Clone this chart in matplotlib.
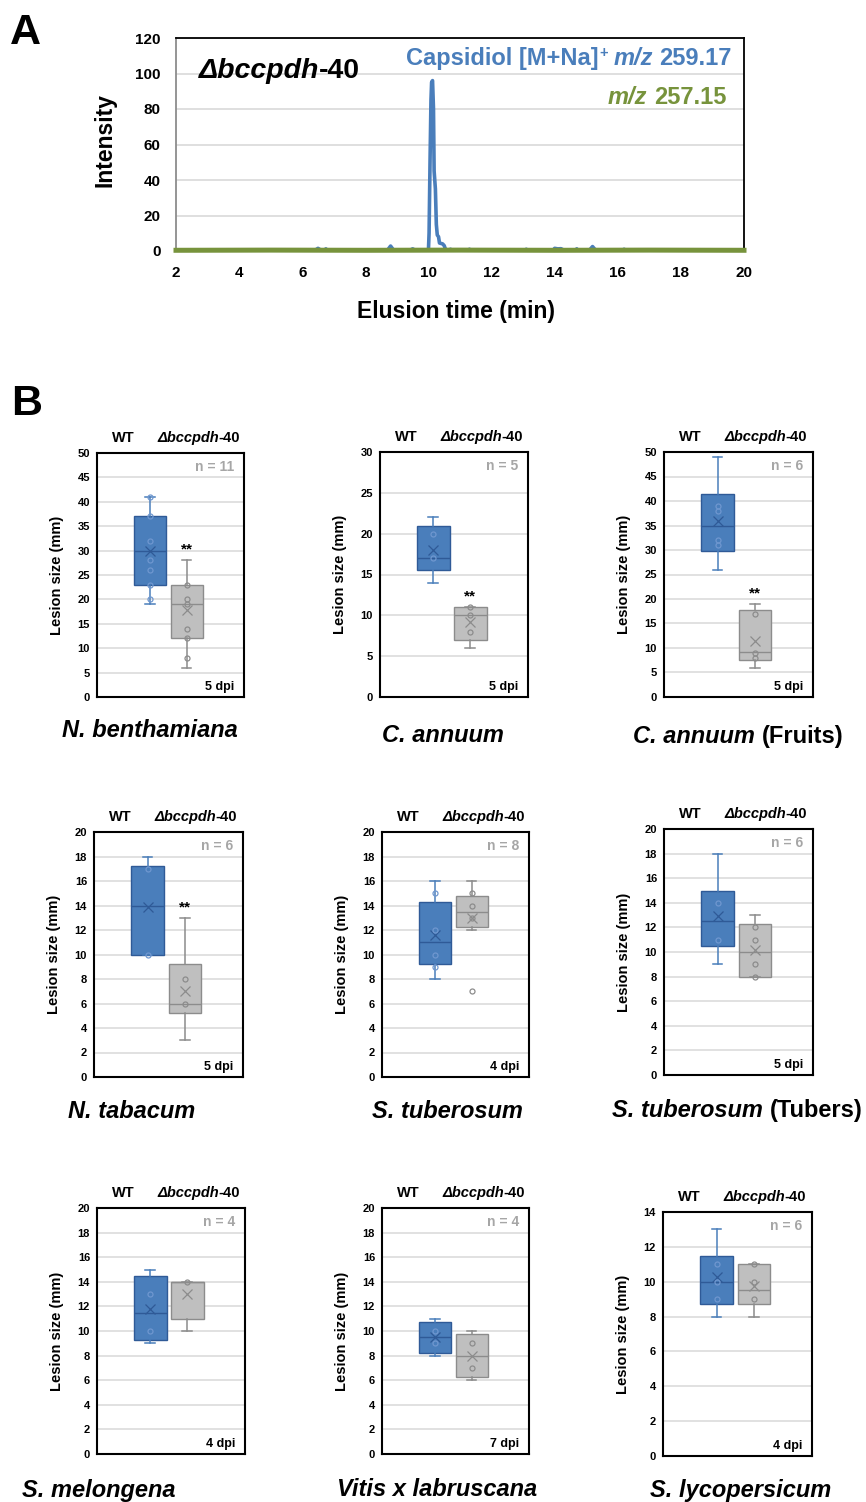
import numpy as np
import matplotlib
matplotlib.use('Agg')
import matplotlib.pyplot as plt

FONT = 'Liberation Sans'
plt.rcParams['font.family'] = [FONT, 'DejaVu Sans']
plt.rcParams['font.weight'] = 'bold'
plt.rcParams['axes.labelweight'] = 'bold'

# ---- Panel A: extracted ion chromatograms ----
time_259 = [2.0, 4.0, 6.4, 6.5, 6.6, 6.7, 6.75, 6.8, 8.0, 8.7, 8.8, 8.9, 9.4, 9.5, 9.6,
            9.97, 10.0, 10.02, 10.05, 10.08, 10.1, 10.13, 10.16, 10.18, 10.22, 10.25,
            10.28, 10.32, 10.35, 10.45, 10.5, 10.55, 10.65, 10.7, 10.75, 11.25, 11.3,
            11.35, 13.05, 13.1, 13.15, 13.95, 14.0, 14.1, 14.2, 14.3, 14.65, 14.7,
            14.75, 15.1, 15.2, 15.3, 16.15, 16.2, 16.25, 20.0]
intensity_259 = [0.3, 0.3, 0.3, 1.5, 0.4, 0.4, 1.2, 0.3, 0.3, 0.4, 2.8, 0.4, 0.3, 1.2, 0.3,
                 0.3, 0.5, 10, 50, 85, 95, 96, 80, 45, 35, 15,
                 9, 8, 4.5, 4.0, 3.0, 0.5, 0.4, 1.0, 0.3, 0.3, 1.0,
                 0.3, 0.3, 1.0, 0.3, 0.4, 1.5, 1.2, 1.3, 0.4, 0.3, 1.2,
                 0.3, 0.4, 2.5, 0.4, 0.3, 1.0, 0.3, 0.3]
time_257 = [2.0, 5.0, 8.0, 11.0, 14.0, 17.0, 20.0]
intensity_257 = [0.4, 0.5, 0.4, 0.5, 0.4, 0.5, 0.4]

# ---- Panel B: lesion sizes (mm) ----
species = ['N. benthamiana', 'C. annuum', 'C. annuum', 'N. tabacum', 'S. tuberosum',
           'S. tuberosum', 'S. melongena', 'Vitis x labruscana', 'S. lycopersicum']
species_suffix = ['', '', '(Fruits)', '', '', '(Tubers)', '', '', '']
dpi_label = ['5 dpi', '5 dpi', '5 dpi', '5 dpi', '4 dpi', '5 dpi', '4 dpi', '7 dpi', '4 dpi']
n_plants = [11, 5, 6, 6, 8, 6, 4, 4, 6]
y_max = [50, 30, 50, 20, 20, 20, 20, 20, 14]
y_step = [5, 5, 5, 2, 2, 2, 2, 2, 2]
significant = [True, True, True, True, False, False, False, False, False]

wt_whislo = [19, 14, 26, 10, 8, 9, 9, 8, 8]
wt_q1 = [23, 15.5, 29.75, 10, 9.25, 10.5, 9.25, 8.25, 8.75]
wt_med = [30, 17, 35, 14, 11, 12.5, 11.5, 9.5, 10]
wt_q3 = [37, 21, 41.5, 17.25, 14.25, 15, 14.5, 10.75, 11.5]
wt_whishi = [41, 22, 49, 18, 16, 18, 15, 11, 13]
wt_mean = [30, 18, 36, 13.9, 11.6, 12.9, 11.75, 9.5, 10.25]
wt_points = [[41, 37, 32, 28, 26, 23, 20], [20, 17], [39, 38, 32, 31], [17, 10],
             [15, 12, 10, 9], [14, 11], [13, 10], [10, 9], [11, 10, 9]]

mut_whislo = [6, 6, 6, 3, 12, 8, 10, 6, 8]
mut_q1 = [12, 7, 7.6, 5.25, 12.25, 8, 11, 6.25, 8.75]
mut_med = [19, 10, 9.2, 6, 13.5, 10, 14, 8, 9.5]
mut_q3 = [23, 11, 17.7, 9.25, 14.75, 12.25, 14, 9.75, 11]
mut_whishi = [28, 11, 19, 13, 16, 13, 14, 10, 11]
mut_mean = [17.8, 9.2, 11.5, 7, 13, 10.2, 13, 8, 9.75]
mut_points = [[23, 20, 19, 14, 12, 8], [11, 10, 8], [17, 9, 8], [8, 6],
              [15, 14, 13, 7], [12, 11, 9, 8], [14], [9, 7], [11, 10, 9]]

# layout in pixels of the 866x1502 figure (left, top, right, bottom)
FIG_W, FIG_H = 866, 1502
panel_px = [(97, 453, 244, 697), (380, 452, 528, 697), (664, 452, 813, 697),
            (94, 832, 243, 1077), (382, 832, 529, 1077), (664, 829, 813, 1075),
            (97, 1208, 245, 1454), (382, 1208, 529, 1454), (663, 1212, 812, 1456)]
title_px = [(62, 737), (382, 742), (633, 743), (68, 1118), (372, 1118), (612, 1117),
            (22, 1497), (337, 1496), (650, 1497)]

BLUE = '#4A7EBB'
BLUE_DARK = '#2F5A97'
GRAY = '#BFBFBF'
GRAY_DARK = '#8C8C8C'
PX = 0.72  # points per pixel at dpi 100


def rect(l, t, r, b):
    return [l / FIG_W, 1 - b / FIG_H, (r - l) / FIG_W, (b - t) / FIG_H]


def rich_text(ax, xy, coords, parts, size, color='black', va='baseline', offset=(0, 0)):
    """Draw text pieces one after another; parts = (text, italic, gap_em, sup)."""
    base = prev = None
    for text, italic, gap, sup in parts:
        style = 'italic' if italic else 'normal'
        if base is None:
            t = ax.annotate(text, xy=xy, xycoords=coords, xytext=offset,
                            textcoords='offset points', ha='left', va=va,
                            fontsize=size, fontstyle=style, fontweight='bold',
                            color=color, annotation_clip=False)
            base = t
        else:
            t = ax.annotate(text, xy=(1, 0.45 if sup else 0), xycoords=(prev, base),
                            xytext=(gap * size, 0), textcoords='offset points',
                            ha='left', va='bottom', fontsize=size * (0.62 if sup else 1),
                            fontstyle=style, fontweight='bold', color=color,
                            annotation_clip=False)
        prev = t
    return base


fig = plt.figure(figsize=(FIG_W / 100, FIG_H / 100), dpi=100)
fig.patch.set_facecolor('white')

# ---------------- Panel A ----------------
axA = fig.add_axes(rect(176, 38, 744, 251))
axA.plot(time_259, intensity_259, color=BLUE, lw=2.6, solid_joinstyle='round', zorder=3)
axA.plot(time_257, intensity_257, color='#77933C', lw=3.6, zorder=4, clip_on=False)
axA.set_xlim(2, 20)
axA.set_ylim(0, 120)
axA.set_xticks(np.arange(2, 21, 2))
axA.set_yticks(np.arange(0, 121, 20))
axA.grid(axis='y', color='#D9D9D9', lw=1.2)
axA.set_axisbelow(True)
axA.tick_params(length=0, labelsize=11, pad=11)
for s in axA.spines.values():
    s.set_linewidth(1.3)
axA.spines['left'].set_color('#8C8C8C')
axA.set_ylabel('Intensity', fontsize=16.5, va='center')
axA.yaxis.set_label_coords(-0.125, 0.523)
axA.set_xlabel('Elusion time (min)', fontsize=16.5, va='center')
axA.xaxis.set_label_coords(0.493, -0.286)

rich_text(axA, (199, FIG_H - 78), 'figure pixels',
          [('Δbccpdh', True, 0, False), ('-40', False, 0, False)], 20.5)
rich_text(axA, (406, FIG_H - 65), 'figure pixels',
          [('Capsidiol [M+Na]', False, 0, False), ('+', False, 0.02, True),
           ('m/z', True, 0.25, False), ('259.17', False, 0.27, False)], 17, color=BLUE)
rich_text(axA, (608, FIG_H - 104), 'figure pixels',
          [('m/z', True, 0, False), ('257.15', False, 0.27, False)], 17, color='#77933C')

fig.text(10 / FIG_W, 1 - 44 / FIG_H, 'A', fontsize=31, fontweight='bold', va='baseline')
fig.text(11 / FIG_W, 1 - 415 / FIG_H, 'B', fontsize=31, fontweight='bold', va='baseline')

# ---------------- Panel B ----------------
for i in range(9):
    l, t, r, b = panel_px[i]
    w = r - l
    ax = fig.add_axes(rect(l, t, r, b))

    groups = [
        (1, wt_whislo[i], wt_q1[i], wt_med[i], wt_q3[i], wt_whishi[i], wt_mean[i],
         wt_points[i], BLUE, BLUE_DARK, '#6F97CF'),
        (2, mut_whislo[i], mut_q1[i], mut_med[i], mut_q3[i], mut_whishi[i], mut_mean[i],
         mut_points[i], GRAY, GRAY_DARK, GRAY_DARK),
    ]
    for pos, lo, q1, med, q3, hi, mean, pts, fill, dark, ptc in groups:
        stats = [dict(whislo=lo, q1=q1, med=med, q3=q3, whishi=hi, mean=mean, fliers=[])]
        ax.bxp(stats, positions=[pos], widths=0.88, capwidths=0.26, patch_artist=True,
               showmeans=True, showfliers=False, manage_ticks=False,
               boxprops=dict(facecolor=fill, edgecolor=dark, lw=1.0),
               whiskerprops=dict(color=dark if pos == 2 else fill, lw=1.1),
               capprops=dict(color=dark if pos == 2 else fill, lw=1.1),
               medianprops=dict(color=dark, lw=1.0),
               meanprops=dict(marker='x', markeredgecolor=dark, markersize=7,
                              markeredgewidth=0.9))
        ax.plot([pos] * len(pts), pts, 'o', ms=3.6, mfc='none', mec=ptc, mew=0.9,
                zorder=4)

    ax.set_xlim(-0.44, 3.56)
    ax.set_ylim(0, y_max[i])
    ax.set_yticks(np.arange(0, y_max[i] + 0.1, y_step[i]))
    ax.set_xticks([])
    ax.grid(axis='y', color='#D9D9D9', lw=1.1)
    ax.set_axisbelow(True)
    ax.tick_params(length=0, labelsize=8, pad=5)
    for s in ax.spines.values():
        s.set_linewidth(1.5)

    if significant[i]:
        ax.text(2, mut_whishi[i] + 0.043 * y_max[i], '**', ha='center', va='center',
                fontsize=11)

    ax.set_ylabel('Lesion size (mm)', fontsize=10.5, va='center')
    ax.yaxis.set_label_coords(-40 / w, 0.5)

    ax.text(1 - 10 / w, 1 - 14 / (b - t), f'n = {n_plants[i]}', transform=ax.transAxes,
            ha='right', va='center', fontsize=10, color='#A6A6A6')
    ax.text(1 - 10 / w, 10 / (b - t), dpi_label[i], transform=ax.transAxes,
            ha='right', va='center', fontsize=9)

    ax.annotate('WT', xy=(26 / w, 1), xycoords='axes fraction', xytext=(0, 15 * PX),
                textcoords='offset points', ha='center', va='center', fontsize=10.5,
                annotation_clip=False)
    rich_text(ax, (60 / w, 1), 'axes fraction',
              [('Δbccpdh', True, 0, False), ('-40', False, 0, False)], 10.5,
              va='center', offset=(0, 15 * PX))

    parts = [(species[i], True, 0, False)]
    if species_suffix[i]:
        parts.append((species_suffix[i], False, 0.28, False))
    tx, ty = title_px[i]
    rich_text(ax, (tx, FIG_H - ty), 'figure pixels', parts, 17)

fig.savefig('out.png', dpi=100, facecolor='white')
